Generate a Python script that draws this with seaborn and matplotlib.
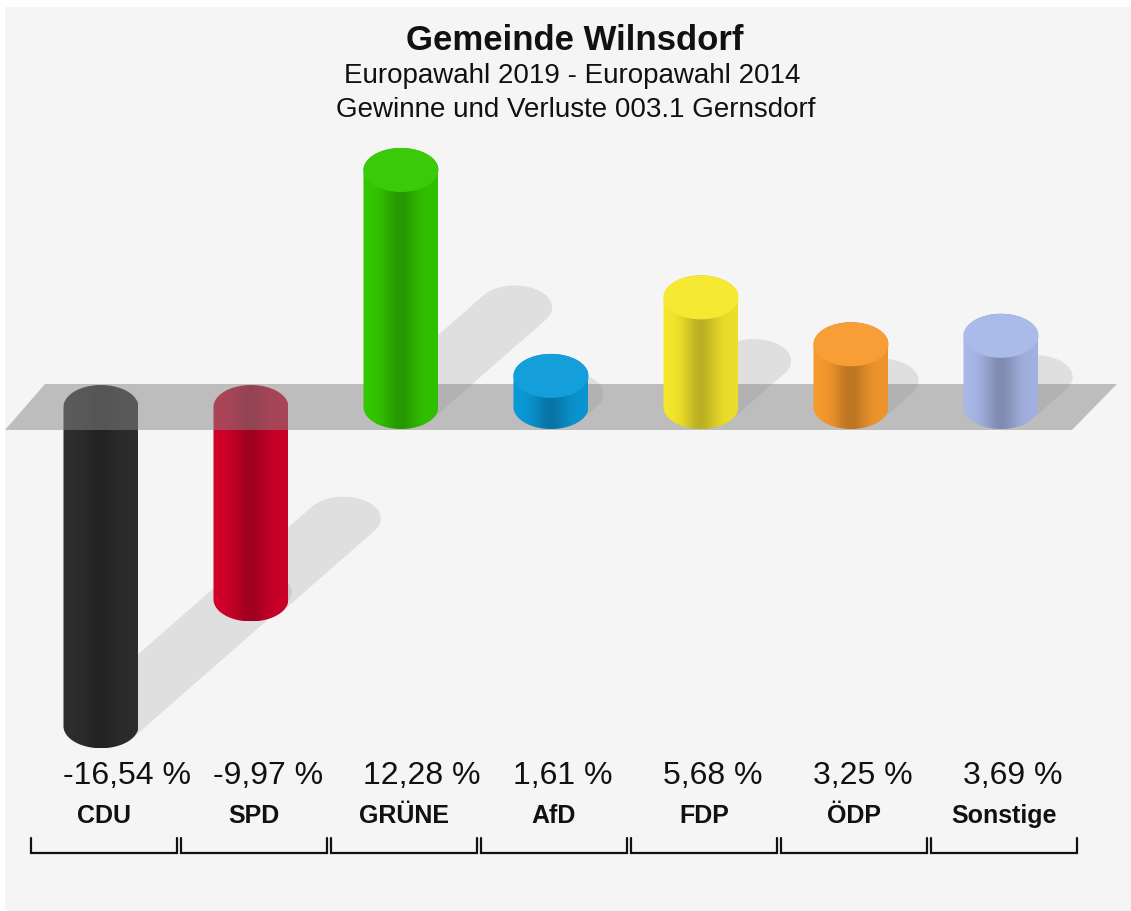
import numpy as np
import pandas as pd
import matplotlib
matplotlib.use("Agg")
import matplotlib.pyplot as plt
import seaborn as sns
from matplotlib.patches import Polygon, Ellipse, Rectangle, PathPatch
from matplotlib.path import Path
import matplotlib.transforms as mtransforms
from matplotlib.colors import to_rgb

# ---------------- data ----------------
parties = ["CDU", "SPD", "GRÜNE", "AfD", "FDP", "ÖDP", "Sonstige"]
values = [-16.54, -9.97, 12.28, 1.61, 5.68, 3.25, 3.69]
value_labels = ["-16,54 %", "-9,97 %", "12,28 %", "1,61 %", "5,68 %", "3,25 %", "3,69 %"]
colors = ["#2e2e2e", "#d2002a", "#33c800", "#0a9ad8", "#f6e82c", "#f89a2e", "#a8b8e8"]
title = "Gemeinde Wilnsdorf"
subtitle1 = "Europawahl 2019 - Europawahl 2014"
subtitle2 = "Gewinne und Verluste 003.1 Gernsdorf"

# ---------------- setup ----------------
sns.set_theme(style="white")
plt.rcParams['font.family'] = ['Liberation Sans', 'DejaVu Sans']

W, H = 1131, 911
fig = plt.figure(figsize=(W / 100, H / 100), dpi=100)
fig.patch.set_facecolor('white')
fig.patches.append(Rectangle((5 / W, 0), 1, (H - 7) / H, transform=fig.transFigure,
                             facecolor='#f5f5f5', edgecolor='none', zorder=-10))
ax = fig.add_axes([0, 0, 1, 1])
ax.set_facecolor('none')

df = pd.DataFrame({"Partei": parties, "Diff": values})
sns.barplot(data=df, x="Partei", y="Diff", hue="Partei", palette=colors, width=0.5,
            saturation=1, legend=False, ax=ax, errorbar=None)

PX_X = 150.0   # px per category
PX_Y = 19.3    # px per percentage point
x0_px, y0_px = 101, 407
xmin = -x0_px / PX_X
xmax = xmin + W / PX_X
ymax = y0_px / PX_Y
ymin = ymax - H / PX_Y
ax.set_xlim(xmin, xmax)
ax.set_ylim(ymin, ymax)
ax.axis('off')

ELL = 44 / PX_Y          # ellipse height in data units
SH_DX = 0.48 * PX_Y / PX_X
SH_DY = 0.42


def convex_hull(pts):
    pts = sorted(map(tuple, pts))
    def cross(o, a, b):
        return (a[0] - o[0]) * (b[1] - o[1]) - (a[1] - o[1]) * (b[0] - o[0])
    lower, upper = [], []
    for p in pts:
        while len(lower) >= 2 and cross(lower[-2], lower[-1], p) <= 0:
            lower.pop()
        lower.append(p)
    for p in reversed(pts):
        while len(upper) >= 2 and cross(upper[-2], upper[-1], p) <= 0:
            upper.pop()
        upper.append(p)
    return np.array(lower[:-1] + upper[:-1])


def ellipse_pts(xc, yc, w, h, n=60):
    t = np.linspace(0, 2 * np.pi, n, endpoint=False)
    return np.column_stack([xc + w / 2 * np.cos(t), yc + h / 2 * np.sin(t)])


def shade(t):
    return 1.0 - 0.22 * np.exp(-((t - 0.50) / 0.22) ** 2) - 0.04 * t


bars = sorted([p for p in ax.patches if isinstance(p, Rectangle)], key=lambda p: p.get_x())
for p, col in zip(bars, colors):
    xl, w, v = p.get_x(), p.get_width(), p.get_height()
    p.set_visible(False)
    xc, xr = xl + w / 2, xl + w
    lo, hi = min(0, v), max(0, v)
    b = ELL / 2
    # shadow
    s_start = ellipse_pts(xc, lo, w, ELL)
    s_end = ellipse_pts(xc + SH_DX * abs(v), lo + SH_DY * abs(v), w, ELL)
    hull = convex_hull(np.vstack([s_start, s_end]))
    ax.add_patch(Polygon(hull, closed=True, facecolor='black', alpha=0.085,
                         edgecolor='none', zorder=1))
    # capsule body
    th_lo = np.linspace(np.pi, 2 * np.pi, 50)
    th_hi = np.linspace(0, np.pi, 50)
    pts = np.vstack([
        np.column_stack([xc + w / 2 * np.cos(th_lo), lo + b * np.sin(th_lo)]),
        np.column_stack([xc + w / 2 * np.cos(th_hi), hi + b * np.sin(th_hi)]),
    ])
    z = 2 if v < 0 else 4
    clip = PathPatch(Path(np.vstack([pts, pts[:1]]), closed=True), facecolor='none',
                     edgecolor='none', transform=ax.transData)
    ax.add_patch(clip)
    t = np.linspace(0, 1, 128)
    rgb = np.array(to_rgb(col))
    img = np.clip(rgb[None, :] * shade(t)[:, None], 0, 1)[None, :, :]
    im = ax.imshow(img, extent=[xl, xr, lo - b, hi + b], aspect='auto',
                   interpolation='bilinear', zorder=z, origin='lower')
    im.set_clip_path(clip)
    if v > 0:
        cap = np.clip(rgb * 1.0 + (1 - rgb) * 0.04, 0, 1)
        ax.add_patch(Ellipse((xc, v), w, ELL, facecolor=cap, edgecolor='none', zorder=4.5))

ax.set_xlim(xmin, xmax)
ax.set_ylim(ymin, ymax)

# baseline band
band_top = 23 / PX_Y
band = Polygon([(-0.64, -band_top), (-0.373, band_top), (6.773, band_top), (6.473, -band_top)],
               closed=True, facecolor=(135 / 255, 135 / 255, 135 / 255), alpha=0.51,
               edgecolor='none', zorder=3)
ax.add_patch(band)

# labels and brackets
blend = mtransforms.blended_transform_factory(ax.transData, fig.transFigure)
def fy(px):
    return 1 - px / H

for i, (p, lab, name) in enumerate(zip(bars, value_labels, parties)):
    ax.text(p.get_x(), fy(784), lab, transform=blend, ha='left', va='baseline',
            fontsize=23, color='#111111')
    l, r = i - 0.467, i + 0.507
    ax.text((l + r) / 2, fy(823), name, transform=blend, ha='center', va='baseline',
            fontsize=18, fontweight='bold', color='#111111')
    ax.plot([l, l, r, r], [fy(838), fy(853), fy(853), fy(838)], transform=blend,
            color='#111111', lw=1.6, solid_joinstyle='miter', clip_on=False)

fig.text(575 / W, fy(50), title, ha='center', va='baseline', fontsize=25,
         fontweight='bold', color='#111111')
fig.text(572 / W, fy(83), subtitle1, ha='center', va='baseline', fontsize=20, color='#111111')
fig.text(576 / W, fy(117), subtitle2, ha='center', va='baseline', fontsize=20, color='#111111')

fig.savefig("out.png", dpi=100, facecolor=fig.get_facecolor())
